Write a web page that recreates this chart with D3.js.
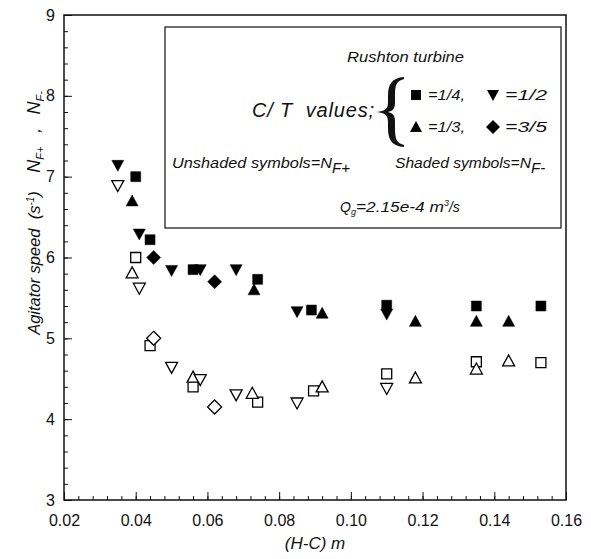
<!DOCTYPE html>
<html>
<head>
<meta charset="utf-8">
<script src="https://cdn.jsdelivr.net/npm/d3@7"></script>
<style>
  body { margin: 0; background: #fff; }
  text { font-family: "Liberation Sans", Arial, sans-serif; fill: #111; white-space: pre; }
</style>
</head>
<body>
<svg id="chart" width="591" height="559"></svg>
<script>
// C/T = 1/4 (squares)
const squareShaded = [[0.040, 7.00], [0.044, 6.22], [0.056, 5.85], [0.074, 5.73], [0.089, 5.35], [0.110, 5.41], [0.135, 5.40], [0.153, 5.40]];
const squareOpen = [[0.040, 6.00], [0.044, 4.91], [0.056, 4.40], [0.074, 4.21], [0.0896, 4.35], [0.110, 4.56], [0.135, 4.71], [0.153, 4.70]];
// C/T = 1/3 (up triangles)
const triUpShaded = [[0.039, 6.70], [0.073, 5.60], [0.092, 5.31], [0.118, 5.21], [0.135, 5.21], [0.144, 5.21]];
const triUpOpen = [[0.039, 5.81], [0.056, 4.52], [0.0725, 4.32], [0.092, 4.40], [0.118, 4.51], [0.135, 4.62], [0.144, 4.72]];
// C/T = 1/2 (down triangles)
const triDownShaded = [[0.035, 7.14], [0.041, 6.29], [0.050, 5.84], [0.058, 5.85], [0.068, 5.85], [0.085, 5.33], [0.110, 5.30]];
const triDownOpen = [[0.035, 6.89], [0.041, 5.62], [0.050, 4.64], [0.058, 4.49], [0.068, 4.30], [0.085, 4.20], [0.110, 4.38]];
// C/T = 3/5 (diamonds)
const diamondShaded = [[0.045, 6.00], [0.062, 5.70]];
const diamondOpen = [[0.045, 5.00], [0.062, 4.15]];

const xTicks = [0.02, 0.04, 0.06, 0.08, 0.10, 0.12, 0.14, 0.16];
const yTicks = [3, 4, 5, 6, 7, 8, 9];

const series = [
  { shape: 'square', filled: false, data: squareOpen },
  { shape: 'triUp', filled: false, data: triUpOpen },
  { shape: 'triDown', filled: false, data: triDownOpen },
  { shape: 'diamond', filled: false, data: diamondOpen },
  { shape: 'square', filled: true, data: squareShaded },
  { shape: 'triUp', filled: true, data: triUpShaded },
  { shape: 'triDown', filled: true, data: triDownShaded },
  { shape: 'diamond', filled: true, data: diamondShaded },
];

const margin = { left: 64, right: 25, top: 15, bottom: 59 };
const width = 591, height = 559;

const svg = d3.select('#chart');
const x = d3.scaleLinear().domain([0.02, 0.16]).range([margin.left, width - margin.right]);
const y = d3.scaleLinear().domain([3, 9]).range([height - margin.bottom, margin.top]);

// marker path centred on 0,0
const markerPath = (shape) => {
  if (shape === 'square') return 'M-5,-5H5V5H-5Z';
  if (shape === 'triUp') return 'M0,-6L6,5H-6Z';
  if (shape === 'triDown') return 'M0,6L6,-5H-6Z';
  return 'M0,-7L7,0L0,7L-7,0Z';
};

// axes, ticks pointing inward
const x0 = x.range()[0], x1 = x.range()[1];
const y0 = y.range()[0], y1 = y.range()[1];

const xMinor = d3.range(0.02, 0.1601, 0.004);
const yMinor = d3.range(3, 9.001, 0.2);

svg.append('g')
  .attr('transform', `translate(0,${y0})`)
  .call(d3.axisBottom(x).tickValues(xMinor).tickSize(-4).tickFormat(''))
  .call(g => g.select('.domain').remove())
  .selectAll('line').attr('stroke', '#111');

svg.append('g')
  .attr('transform', `translate(0,${y0})`)
  .call(d3.axisBottom(x).tickValues(xTicks).tickSize(-8).tickPadding(15).tickFormat(d3.format('.2f')))
  .call(g => g.select('.domain').remove())
  .call(g => g.selectAll('line').attr('stroke', '#111'))
  .call(g => g.selectAll('text').attr('font-size', 16).attr('font-family', '"Liberation Sans", Arial, sans-serif').attr('fill', '#222'));

svg.append('g')
  .attr('transform', `translate(${x0},0)`)
  .call(d3.axisLeft(y).tickValues(yMinor).tickSize(-4).tickFormat(''))
  .call(g => g.select('.domain').remove())
  .selectAll('line').attr('stroke', '#111');

svg.append('g')
  .attr('transform', `translate(${x0},0)`)
  .call(d3.axisLeft(y).tickValues(yTicks).tickSize(-8).tickPadding(9).tickFormat(d3.format('d')))
  .call(g => g.select('.domain').remove())
  .call(g => g.selectAll('line').attr('stroke', '#111'))
  .call(g => g.selectAll('text').attr('font-size', 16).attr('font-family', '"Liberation Sans", Arial, sans-serif').attr('fill', '#222'));

svg.append('rect')
  .attr('x', x0).attr('y', y1)
  .attr('width', x1 - x0).attr('height', y0 - y1)
  .attr('fill', 'none').attr('stroke', '#111').attr('stroke-width', 1.5);

// legend box
const lg = svg.append('g');
lg.append('rect')
  .attr('x', 165).attr('y', 27).attr('width', 396).attr('height', 201)
  .attr('fill', '#fff').attr('stroke', '#222').attr('stroke-width', 1.3);

lg.append('text').attr('x', 347).attr('y', 62)
  .attr('font-size', 14).attr('font-style', 'italic')
  .attr('textLength', 117).attr('lengthAdjust', 'spacingAndGlyphs')
  .text('Rushton turbine');

lg.append('text').attr('x', 252).attr('y', 117)
  .attr('font-size', 20).attr('font-style', 'italic').attr('fill', '#333')
  .attr('textLength', 122)
  .text('C/ T  values;');

// curly brace, filled so the middle is heavier than the tips
lg.append('path')
  .attr('d', 'M404,77 C392,78 388,84 388,96 L388,102 C388,109 385,111 377,112 C385,113 388,115 388,122 L388,128 C388,140 392,146 404,147 L404,145 C396,143 395,138 395,128 L395,121 C395,114 391,112 386,112 C391,112 395,110 395,103 L395,96 C395,86 396,81 404,79 Z')
  .attr('fill', '#111');

const legendItems = [
  { shape: 'square', label: '=1/4,', lx: 416, ly: 95, w: 37 },
  { shape: 'triDown', label: '=1/2', lx: 493, ly: 95, w: 42 },
  { shape: 'triUp', label: '=1/3,', lx: 416, ly: 127, w: 37 },
  { shape: 'diamond', label: '=3/5', lx: 493, ly: 127, w: 42 },
];
legendItems.forEach(d => {
  lg.append('path').attr('d', markerPath(d.shape))
    .attr('transform', `translate(${d.lx},${d.ly})`)
    .attr('fill', '#000');
  lg.append('text').attr('x', d.lx + 12).attr('y', d.ly + 5)
    .attr('font-size', 14).attr('font-style', 'italic')
    .attr('textLength', d.w).attr('lengthAdjust', 'spacingAndGlyphs')
    .text(d.label);
});

const subText = (xPos, yPos, main, sub, mainLen) => {
  const t = lg.append('text').attr('x', xPos).attr('y', yPos)
    .attr('font-size', 14).attr('font-style', 'italic');
  t.append('tspan').attr('textLength', mainLen).attr('lengthAdjust', 'spacingAndGlyphs').text(main);
  t.append('tspan').attr('dy', 5).attr('font-size', 15).text(sub);
};
subText(172, 168, 'Unshaded symbols=N', 'F+', 160);
subText(395, 168, 'Shaded symbols=N', 'F-', 136);

const qt = lg.append('text').attr('x', 340).attr('y', 212)
  .attr('font-size', 14).attr('font-style', 'italic');
qt.append('tspan').text('Q');
qt.append('tspan').attr('dy', 3).attr('font-size', 9).text('g');
qt.append('tspan').attr('dy', -3).attr('textLength', 88).attr('lengthAdjust', 'spacingAndGlyphs').text('=2.15e-4 m');
qt.append('tspan').attr('dy', -6).attr('font-size', 9).text('3');
qt.append('tspan').attr('dy', 6).text('/s');

// data points
series.forEach(s => {
  svg.append('g')
    .selectAll('path')
    .data(s.data)
    .join('path')
    .attr('d', markerPath(s.shape))
    .attr('transform', d => `translate(${x(d[0])},${y(d[1])})`)
    .attr('fill', s.filled ? '#000' : '#fff')
    .attr('stroke', '#000')
    .attr('stroke-width', s.filled ? 0.5 : 1.3);
});

// axis titles
svg.append('text')
  .attr('x', (x0 + x1) / 2).attr('y', 549).attr('text-anchor', 'middle')
  .attr('font-size', 17).attr('font-style', 'italic').attr('fill', '#222')
  .text('(H-C) m');

const yt = svg.append('text')
  .attr('transform', 'translate(40,213) rotate(-90)')
  .attr('text-anchor', 'middle')
  .attr('font-size', 16.5).attr('font-style', 'italic').attr('fill', '#222');
yt.append('tspan').text('Agitator speed  (s');
yt.append('tspan').attr('dy', -6).attr('font-size', 10).text('-1');
yt.append('tspan').attr('dy', 6).text(')    ');
yt.append('tspan').attr('font-size', 18).text('N');
yt.append('tspan').attr('dy', 4).attr('font-size', 11).text('F+');
yt.append('tspan').attr('dy', -4).text('   ,   ');
yt.append('tspan').attr('font-size', 18).text('N');
yt.append('tspan').attr('dy', 4).attr('font-size', 11).text('F-');
</script>
</body>
</html>
